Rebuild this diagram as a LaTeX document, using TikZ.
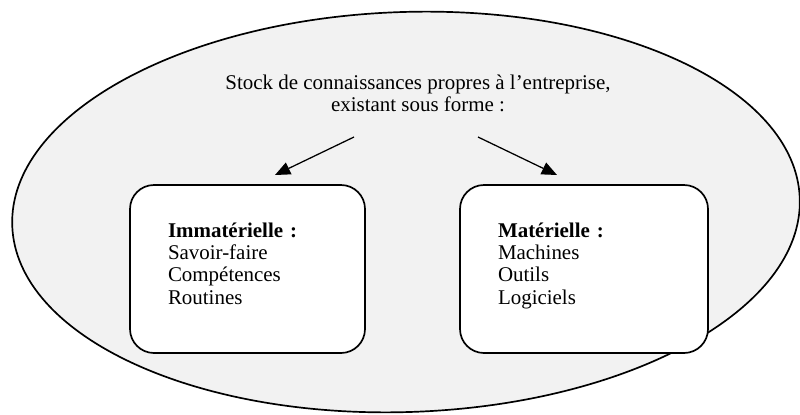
\documentclass[tikz,border=0pt]{standalone}
\usepackage{fontspec}
\setmainfont{Liberation Serif}
\definecolor{back}{RGB}{242,242,242}
\usetikzlibrary{
	arrows.meta,
	positioning,
	shapes.geometric
}
\tikzset{
  % arrow
	cstra/.style      ={-{Triangle[length=0.38cm,width=0.32cm]}, line width=0.9pt},
  % curve
	cstcurve/.style   ={line width=1.2pt},
  % fill
	cstfill/.style    ={fill=back},
  % node
	csttitle/.style   ={align=center,inner sep=0pt},
	cstbox/.style     ={fill=white,draw=black,text=black,rounded corners=0.6cm,line width=1.2pt,
	                    minimum height=4.2cm,inner xsep=0.95cm,align=left,
	                    text height=0.4cm,text depth=2cm}
}
\begin{document}
\begin{tikzpicture}[font=\fontsize{14.9}{16}\selectfont]
			\useasboundingbox (0,0) rectangle (20,10.35);
			\filldraw[cstcurve,cstfill,rotate around={2:(10.15,5.05)}] (10.15,5.05) ellipse (9.85 and 5.0);
			\node[csttitle,anchor=north] (stock) at (10.45,8.49)
				{Stock de connaissances propres à l’entreprise,\\existant sous forme :};
			\node[cstbox,minimum width=5.875cm,text width=3.975cm] (immat) at (6.1875,3.625)
				{\textbf{Immatérielle :}\\Savoir-faire\\Compétences\\Routines};
			\node[cstbox,minimum width=6.2cm,text width=4.3cm] (mat) at (14.6,3.625)
				{\textbf{Matérielle :}\\Machines\\Outils\\Logiciels};
			\coordinate (s1) at (8.85,6.925);
			\coordinate (t1) at (6.875,5.975);
			\coordinate (s2) at (11.95,6.925);
			\coordinate (t2) at (13.925,5.975);
			\draw[cstra] (s1)--(t1);
			\draw[cstra] (s2)--(t2);
		\end{tikzpicture}
\end{document}
